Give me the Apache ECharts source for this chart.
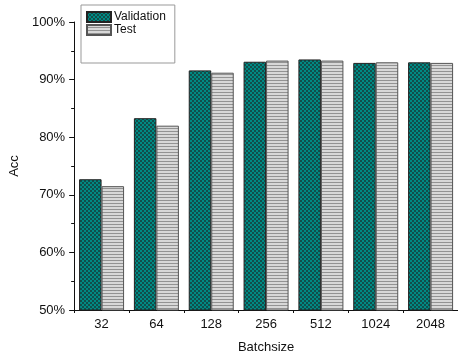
<!DOCTYPE html>
<html><head><meta charset="utf-8">
<script src="https://cdn.jsdelivr.net/npm/echarts@6/dist/echarts.min.js"></script>
<style>html,body{margin:0;padding:0;background:#fff}#c{width:458px;height:359px}</style>
</head><body><div id="c"></div>
<script>
var categories = ['32','64','128','256','512','1024','2048'];
var validation = [72.7, 83.3, 91.6, 93.1, 93.5, 92.9, 93.0];
var test = [71.5, 82.0, 91.2, 93.3, 93.3, 93.0, 92.9];
var yTicks = {min: 50, max: 100, interval: 10};

function checker() {
  var c = document.createElement('canvas'); c.width = 4; c.height = 4;
  var g = c.getContext('2d');
  g.fillStyle = '#008a84'; g.fillRect(0,0,4,4);
  g.fillStyle = '#114e4b';
  g.fillRect(0,0,2,2); g.fillRect(2,2,2,2);
  return c;
}
function stripes() {
  var c = document.createElement('canvas'); c.width = 4; c.height = 3;
  var g = c.getContext('2d');
  g.fillStyle = '#d8d8d8'; g.fillRect(0,0,4,3);
  g.fillStyle = '#939393'; g.fillRect(0,2,4,1);
  return c;
}
var pV = {image: checker(), repeat: 'repeat'};
var pT = {image: stripes(), repeat: 'repeat'};
var font = 'Liberation Sans';

var chart = echarts.init(document.getElementById('c'), null, {renderer: 'canvas'});
chart.setOption({
  animation: false,
  textStyle: {fontFamily: font},
  grid: {left: 66, top: 22, width: 394, height: 290},
  legend: {
    orient: 'vertical', left: 81, top: 5,
    itemWidth: 24, itemHeight: 10, itemGap: 1,
    padding: [6, 9, 27, 5],
    borderColor: '#999', borderWidth: 1,
    textStyle: {fontFamily: font, fontSize: 12, color: '#111', padding: [0,0,0,-2]},
    data: [{name: 'Validation', icon: 'rect'}, {name: 'Test', icon: 'rect'}]
  },
  xAxis: [{
    type: 'category', data: categories,
    name: 'Batchsize', nameLocation: 'middle', nameGap: 31,
    nameTextStyle: {fontFamily: font, fontSize: 13, color: '#111'},
    axisLine: {lineStyle: {color: '#111', width: 1}},
    axisTick: {alignWithLabel: true, length: 5, lineStyle: {color: '#111'}},
    axisLabel: {fontFamily: font, fontSize: 13, color: '#111', margin: 8}
  }, {
    type: 'category', data: categories, position: 'bottom',
    axisLine: {show: false},
    axisTick: {show: true, length: 3, lineStyle: {color: '#111'}},
    axisLabel: {show: false}
  }],
  yAxis: {
    type: 'value', min: yTicks.min, max: yTicks.max, interval: yTicks.interval,
    name: 'Acc', nameLocation: 'middle', nameGap: 47,
    nameTextStyle: {fontFamily: font, fontSize: 13, color: '#111'},
    axisLine: {show: true, lineStyle: {color: '#111', width: 1}},
    axisTick: {show: true, length: 5, lineStyle: {color: '#111'}},
    minorTick: {show: true, splitNumber: 2, length: 3, lineStyle: {color: '#111'}},
    splitLine: {show: false},
    axisLabel: {fontFamily: font, fontSize: 13, color: '#111', margin: 9, formatter: '{value}%'}
  },
  series: [{
    name: 'Validation', type: 'bar', data: validation,
    barWidth: 22.5, barGap: '0%',
    itemStyle: {color: pV, borderColor: '#222', borderWidth: 1}
  }, {
    name: 'Test', type: 'bar', data: test,
    barWidth: 22.5, barGap: '0%',
    itemStyle: {color: pT, borderColor: '#555', borderWidth: 1}
  }]
});
</script></body></html>
